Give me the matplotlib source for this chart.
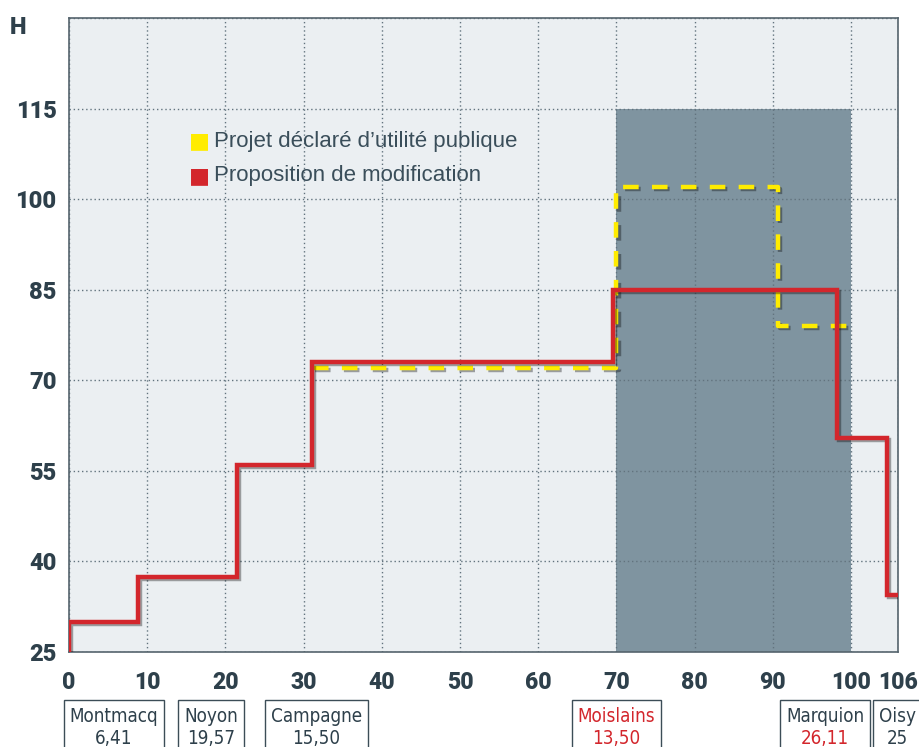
import matplotlib
matplotlib.use("Agg")
import matplotlib.pyplot as plt
import matplotlib.patheffects as pe
from matplotlib import transforms
from matplotlib.patches import Rectangle

# ---- data ----
red_x = [0, 0, 8.8, 21.5, 31.1, 69.5, 98.2, 104.6, 106]
red_y = [25, 30, 37.5, 56, 73, 85, 60.5, 34.5, 34.5]
yel_x = [31.2, 70, 90.7, 100]
yel_y = [72, 102, 79, 79]
zone_x = [70, 100]
zone_top = 115
x_ticks = [0, 10, 20, 30, 40, 50, 60, 70, 80, 90, 100, 106]
y_ticks = [25, 40, 55, 70, 85, 100, 115]
y_grid = [25, 40, 55, 70, 85, 100, 115, 130]
towns = ["Montmacq", "Noyon", "Campagne", "Moislains", "Marquion", "Oisy"]
town_vals = ["6,41", "19,57", "15,50", "13,50", "26,11", "25"]
town_km = [5.75, 18.2, 31.6, 70.0, 96.7, 105.9]
name_red = [False, False, False, True, False, False]
val_red = [False, False, False, True, True, False]
legend_labels = ["Projet déclaré d\u2019utilité publique", "Proposition de modification"]

DARK = "#2e404b"
RED = "#d3262c"
YEL = "#ffec00"
HEAVY = ["Roboto", "Liberation Sans", "DejaVu Sans"]

fig = plt.figure(figsize=(9.2, 7.47), dpi=100)
ax = fig.add_axes([69/920, 1-652/747, (898-69)/920, (652-18)/747])
ax.set_facecolor("#ebeff2")
ax.set_xlim(0, 106)
ax.set_ylim(25, 130)

ax.fill_between(zone_x, 25, zone_top, color="#7f94a0", zorder=1, lw=0)

for x in x_ticks:
    ax.axvline(x, color="#62737e", lw=1.0, ls=(0, (1, 2)), zorder=2)
for y in y_grid:
    ax.axhline(y, color="#62737e", lw=1.0, ls=(0, (1, 2)), zorder=2)

shadow = [pe.SimpleLineShadow(offset=(1.5, -1.5), shadow_color="k", alpha=0.35), pe.Normal()]
ax.plot(yel_x, yel_y, drawstyle="steps-post", color=YEL, lw=3.2,
        ls=(0, (3.5, 3)), zorder=4, path_effects=shadow)
ax.plot(red_x, red_y, drawstyle="steps-post", color=RED, lw=3.2,
        zorder=5, path_effects=shadow, solid_joinstyle="miter")

for s in ax.spines.values():
    s.set_color("#55646d")
    s.set_linewidth(1.2)

ax.set_xticks(x_ticks)
ax.set_xticklabels([str(v) for v in x_ticks])
ax.set_yticks(y_ticks)
ax.set_yticklabels([str(v) for v in y_ticks])
ax.tick_params(axis="y", length=0, labelsize=17, labelcolor=DARK, pad=9)
ax.tick_params(axis="x", length=0, labelsize=16.5, labelcolor=DARK, pad=14)
for lab in ax.get_xticklabels() + ax.get_yticklabels():
    lab.set_fontweight("black")
    lab.set_family(HEAVY)
fig.text(10/920, 1-27/747, "H", fontsize=17, fontweight="black", color=DARK,
         family=HEAVY, ha="left", va="center")

# legend
leg_colors = [YEL, RED]
for i, (lab, c) in enumerate(zip(legend_labels, leg_colors)):
    yy = 1 - (141 + 35*i)/747
    fig.text(189/920, yy, "\u25A0", color=c, fontsize=16, ha="left", va="center",
             family=["DejaVu Sans"])
    fig.text(214/920, yy, lab, color="#3a4e5a", fontsize=16, ha="left", va="center",
             family=["Liberation Sans", "DejaVu Sans"])

# town boxes
trans = transforms.blended_transform_factory(ax.transData, fig.transFigure)
fig.canvas.draw()
renderer = fig.canvas.get_renderer()
cond = ["DejaVu Sans"]
for name, val, km, nr, vr in zip(towns, town_vals, town_km, name_red, val_red):
    t1 = ax.text(km, 1-716/747, name, transform=trans, ha="center", va="center",
                 fontsize=13.5, color=RED if nr else DARK, family=cond,
                 fontstretch="condensed", clip_on=False)
    t2 = ax.text(km, 1-738/747, val, transform=trans, ha="center", va="center",
                 fontsize=13.5, color=RED if vr else DARK, family=cond,
                 fontstretch="condensed", clip_on=False)
    b1 = t1.get_window_extent(renderer)
    b2 = t2.get_window_extent(renderer)
    x0 = min(b1.x0, b2.x0) - 6
    x1 = max(b1.x1, b2.x1) + 6
    top = 747 - 700
    rect = Rectangle((x0/920, -0.05), (x1-x0)/920, top/747 + 0.05,
                     transform=fig.transFigure, fill=False, edgecolor="#3c4d57",
                     lw=1.0, clip_on=False)
    fig.add_artist(rect)

fig.savefig("out.png", dpi=100, facecolor="white")
